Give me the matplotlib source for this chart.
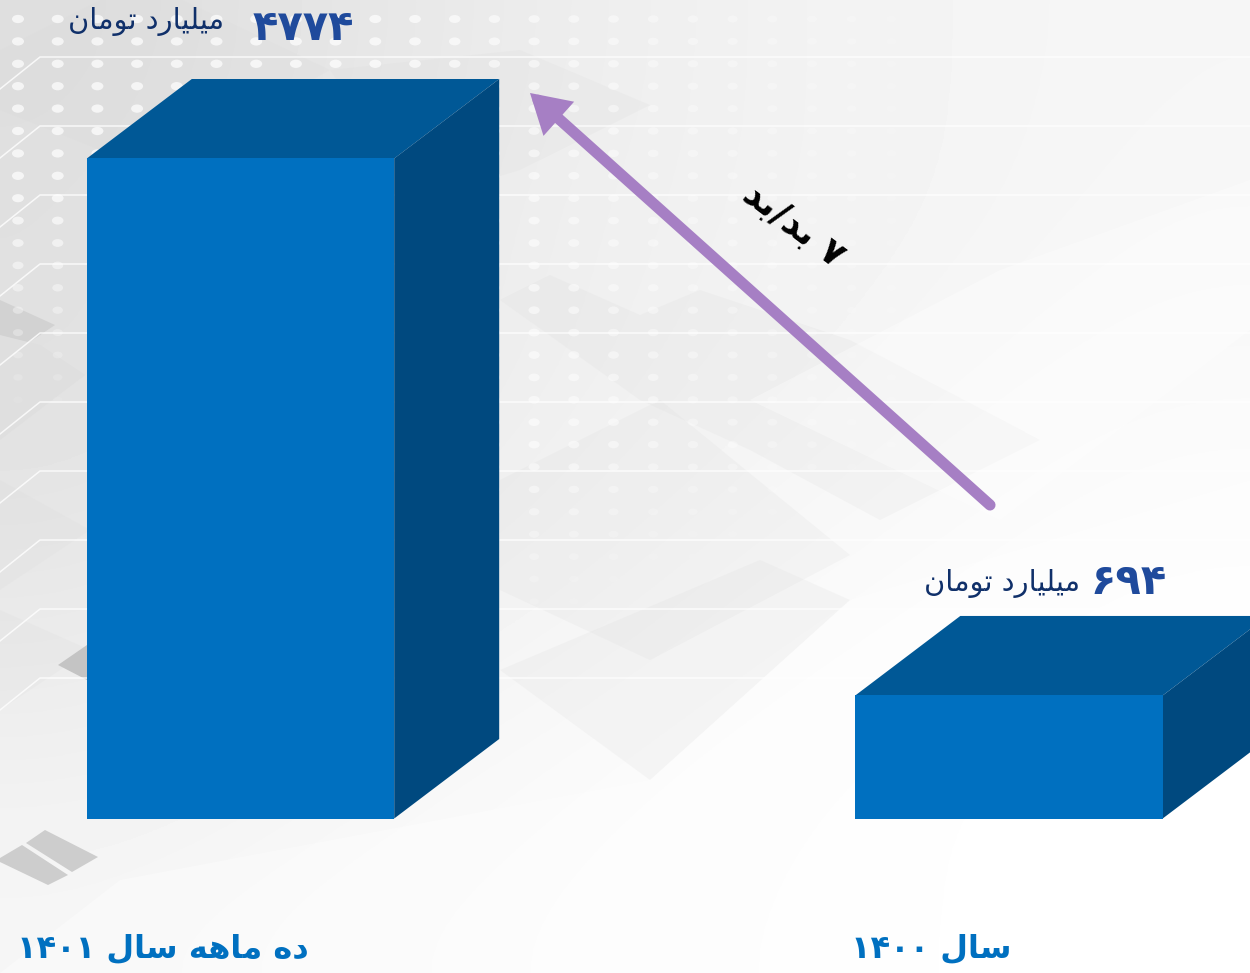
import numpy as np
import matplotlib
matplotlib.use('Agg')
import matplotlib.pyplot as plt
from matplotlib.patches import Polygon, FancyArrowPatch
from matplotlib.path import Path
from matplotlib.transforms import Affine2D

# chart values (index 0 = left bar)
categories = ['ده ماهه سال ۱۴۰۱', 'سال ۱۴۰۰']
bar_values = [4774, 694]
# the drawn height of the small bar in the picture is taller than its value
bar_heights = [4774, 890]
unit_label = 'میلیارد تومان'
growth_label = '۷ بد/بد'

# joining forms: isolated, final, initial, medial
FORMS = {
    'م': '\uFEE1\uFEE2\uFEE3\uFEE4', 'ی': '\uFBFC\uFBFD\uFBFE\uFBFF',
    'ل': '\uFEDD\uFEDE\uFEDF\uFEE0', 'ت': '\uFE95\uFE96\uFE97\uFE98',
    'ن': '\uFEE5\uFEE6\uFEE7\uFEE8', 'س': '\uFEB1\uFEB2\uFEB3\uFEB4',
    'ه': '\uFEE9\uFEEA\uFEEB\uFEEC', 'ب': '\uFE8F\uFE90\uFE91\uFE92',
    'ا': '\uFE8D\uFE8E', 'ر': '\uFEAD\uFEAE', 'د': '\uFEA9\uFEAA',
    'و': '\uFEED\uFEEE',
}
DIGITS = str.maketrans('0123456789', '۰۱۲۳۴۵۶۷۸۹')


def shape_word(word):
    out = []
    for i, ch in enumerate(word):
        if ch not in FORMS:
            out.append(ch)
            continue
        prev_joins = i > 0 and len(FORMS.get(word[i-1], '')) == 4
        next_joins = len(FORMS[ch]) == 4 and i+1 < len(word) and word[i+1] in FORMS
        out.append(FORMS[ch][int(prev_joins) + 2*int(next_joins) if next_joins else int(prev_joins)])
    return out


def persian(text):
    # matplotlib has no shaping or bidi, so lay the text out in visual order
    words = []
    for word in reversed(text.split(' ')):
        if word[0] in '۰۱۲۳۴۵۶۷۸۹':
            words.append(word)
        else:
            words.append(''.join(reversed(shape_word(word))))
    return ' '.join(words)


plt.rcParams['font.family'] = ['DejaVu Sans']
fig = plt.figure(figsize=(12.5, 9.73), dpi=100)

# background layer, in picture pixels
bg = fig.add_axes([0, 0, 1, 1], zorder=0)
bg.set_xlim(0, 1250)
bg.set_ylim(973, 0)
bg.axis('off')

shade = np.array([
    [222, 228, 236, 241, 244, 246],
    [224, 230, 238, 241, 244, 247],
    [224, 232, 238, 242, 246, 249],
    [228, 235, 240, 245, 249, 252],
    [234, 240, 244, 249, 252, 254],
    [240, 245, 249, 252, 254, 255],
    [246, 249, 251, 253, 254, 255],
]) / 255
bg.imshow(shade, cmap='gray', vmin=0, vmax=1, extent=(0, 1250, 973, 0),
          aspect='auto', interpolation='bicubic', zorder=0)

soft_shapes = [
    [(0, 50), (140, -20), (330, 70), (150, 170), (0, 110)],
    [(330, 70), (520, 50), (650, 105), (520, 170), (420, 200)],
    [(500, 300), (550, 275), (640, 315), (700, 290), (850, 340), (1040, 440), (880, 520), (750, 450), (640, 400)],
    [(500, 480), (660, 400), (850, 555), (650, 660), (500, 590)],
    [(500, 670), (760, 560), (850, 600), (650, 780)],
    [(0, 480), (90, 530), (0, 590)],
    [(0, 610), (90, 650), (0, 710)],
]
for pts in soft_shapes:
    bg.add_patch(Polygon(pts, closed=True, fc='#d8d8d8', ec='none', alpha=0.18, zorder=1))

# lighter panels on the right and bottom
light_shapes = [
    [(750, 400), (1000, 270), (1250, 180), (1250, 330), (1000, 520)],
    [(650, 780), (850, 600), (1250, 480), (1250, 973), (0, 973), (120, 880)],
]
for pts in light_shapes:
    bg.add_patch(Polygon(pts, closed=True, fc='white', ec='none', alpha=0.35, zorder=1))

dark_shapes = [
    [(0, 300), (55, 325), (0, 362)],
    [(0, 335), (40, 345), (85, 375), (0, 440)],
    [(26, 843), (45, 830), (98, 857), (72, 872)],
    [(0, 858), (22, 845), (68, 875), (48, 885), (0, 862)],
    [(58, 665), (87, 645), (87, 680)],
]
dark_colors = ['#d2d2d2', '#dfdfdf', '#cdcdcd', '#cdcdcd', '#c4c4c4']
for pts, col in zip(dark_shapes, dark_colors):
    bg.add_patch(Polygon(pts, closed=True, fc=col, ec='none', zorder=2))

# white circuit lines with short diagonals at the left edge
for y in range(57, 700, 69):
    bg.plot([0, 40, 1250], [y+32, y, y], color='white', lw=1.1, alpha=0.8, zorder=3)

# dot texture, fading out to the right and downwards
dot_marker = Path.unit_circle().transformed(Affine2D().scale(1.45, 1))
dot_x, dot_y, dot_alpha, dot_size = [], [], [], []
for row in range(30):
    for col in range(28):
        x = 18 + col*39.7
        y = 19 + row*22.4
        fade = 1 - max(0, x-350)/650 - max(0, y-450)/280
        if x < 90 and y > 180:
            fade -= (y-180)/250
        if fade > 0.05:
            dot_x.append(x)
            dot_y.append(y)
            dot_alpha.append(min(fade*0.75, 0.7))
            dot_size.append(40 + 35*min(fade, 1))
dot_rgba = np.ones((len(dot_x), 4))
dot_rgba[:, 3] = dot_alpha
bg.scatter(dot_x, dot_y, s=dot_size, marker=dot_marker, c=dot_rgba, linewidths=0, zorder=4)

# bars, in value units
ax = fig.add_axes([0, 0, 1, 1], zorder=1)
ax.patch.set_alpha(0)
ax.axis('off')
px_per_value = 660 / 4774
px_per_cat = 768.5
ax.set_xlim(-240.5/px_per_cat, (1250-240.5)/px_per_cat)
ax.set_ylim(-(973-818.5)/px_per_value, 818.5/px_per_value)
ax.set_autoscale_on(False)

bar_width = 0.4
depth_x = 105 / px_per_cat
depth_y = 79.5 / px_per_value
xpos = np.arange(len(bar_heights))
ax.bar(xpos, bar_heights, width=bar_width, color='#0070c0', zorder=3)
for x, h in zip(xpos, bar_heights):
    left, right = x - bar_width/2, x + bar_width/2
    ax.add_patch(Polygon([(left, h), (right, h), (right+depth_x, h+depth_y), (left+depth_x, h+depth_y)],
                         closed=True, fc='#005896', ec='none', zorder=2))
    ax.add_patch(Polygon([(right, 0), (right+depth_x, depth_y), (right+depth_x, h+depth_y), (right, h)],
                         closed=True, fc='#00497f', ec='none', zorder=2))

# growth arrow
bg.add_patch(FancyArrowPatch((990, 505), (530, 93), arrowstyle='-|>,head_length=1.6,head_width=0.95',
                             mutation_scale=10, lw=8, color='#a67fc4', capstyle='round',
                             joinstyle='miter', shrinkA=0, shrinkB=0, zorder=5))
bg.text(793, 225, persian(growth_label), rotation=-37, rotation_mode='anchor', ha='center', va='center',
        fontsize=26, fontweight='bold', color='black', zorder=6)

# value and unit labels
value_pos = [(303, 28), (1129, 582)]
unit_pos = [(146, 21), (1002, 584)]
for val, vp, up in zip(bar_values, value_pos, unit_pos):
    bg.text(vp[0], vp[1], str(val).translate(DIGITS), ha='center', va='center', fontsize=30,
            fontweight='bold', color='#1f4a9c', zorder=6)
    bg.text(up[0], up[1], persian(unit_label), ha='center', va='center', fontsize=20.8,
            color='#10306a', zorder=6)

# category names
cat_pos = [(163, 949), (931, 949)]
for name, cp in zip(categories, cat_pos):
    bg.text(cp[0], cp[1], persian(name), ha='center', va='center', fontsize=23,
            fontweight='bold', color='#0070c0', zorder=6)

fig.savefig('out.png', dpi=100)
